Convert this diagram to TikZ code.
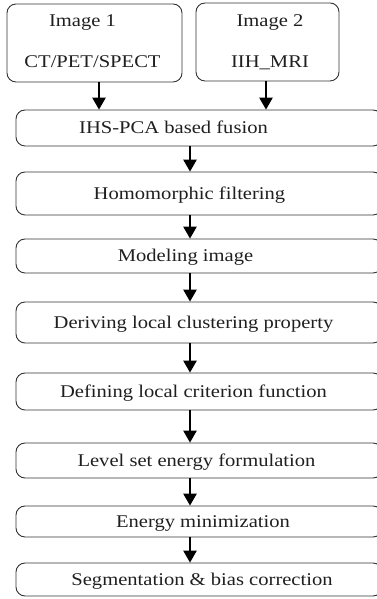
\documentclass[tikz,border=0pt]{standalone}
\usepackage{fontspec}
\setmainfont{Liberation Serif}
\usetikzlibrary{arrows.meta}
\newcommand\sx[1]{\scalebox{1.15}[1]{#1}}
\begin{document}
\begin{tikzpicture}[x=1pt,y=1pt,
  box/.style={draw=black!80, line width=0.9pt, rounded corners=9pt, minimum width=#1, inner sep=0pt},
  box/.default=366pt,
  lbl/.style={anchor=base, inner sep=0pt, text=black!88, font=\fontsize{17.9}{20}\selectfont},
  arr/.style={line width=1.2pt, -{Triangle[length=12pt,width=13.5pt]}}]
\useasboundingbox (0,0) rectangle (377,599);
% top input boxes
\node[box=175pt, minimum height=78pt] (img1) at (94.5,556) {};
\node[box=143pt, minimum height=78pt] (img2) at (267.5,557) {};
\node[lbl] (i1a) at (82.5,572) {\sx{Image 1}};
\node[lbl] (i1b) at (92.5,531) {\sx{CT/PET/SPECT}};
\node[lbl] (i2a) at (270,572) {\sx{Image 2}};
\node[lbl] (i2b) at (270,531) {\sx{IIH\_MRI}};
% main column
\node[box, minimum height=36pt] (b1) at (199,471) {};
\node[box, minimum height=43pt] (b2) at (199,405.5) {};
\node[box, minimum height=34pt] (b3) at (199,343) {};
\node[box, minimum height=41pt] (b4) at (199,276.5) {};
\node[box, minimum height=37pt] (b5) at (199,207.5) {};
\node[box, minimum height=35pt] (b6) at (199,138.5) {};
\node[box, minimum height=31pt] (b7) at (199,77.5) {};
\node[box, minimum height=33pt] (b8) at (199,19.5) {};
\node[lbl] (t1) at (173.5,465.1) {\sx{IHS-PCA based fusion}};
\node[lbl] (t2) at (189.5,399.6) {\sx{Homomorphic filtering}};
\node[lbl] (t3) at (185.5,337.1) {\sx{Modeling image}};
\node[lbl] (t4) at (193.5,270.6) {\sx{Deriving local clustering property}};
\node[lbl] (t5) at (193.5,201.6) {\sx{Defining local criterion function}};
\node[lbl] (t6) at (196.5,132.6) {\sx{Level set energy formulation}};
\node[lbl] (t7) at (203,71.6) {\sx{Energy minimization}};
\node[lbl] (t8) at (202,13.6) {\sx{Segmentation \& bias correction}};
% connectors
\coordinate (a1) at ([xshift=4.5pt]img1.south);
\coordinate (a2) at ([xshift=-1.5pt]img2.south);
\draw[arr] (a1) -- (a1 |- b1.north);
\draw[arr] (a2) -- (a2 |- b1.north);
\coordinate (c) at (190,0);
\draw[arr] (b1.south -| c) -- (b2.north -| c);
\draw[arr] (b2.south -| c) -- (b3.north -| c);
\draw[arr] (b3.south -| c) -- (b4.north -| c);
\draw[arr] (b4.south -| c) -- (b5.north -| c);
\draw[arr] (b5.south -| c) -- (b6.north -| c);
\draw[arr] (b6.south -| c) -- (b7.north -| c);
\draw[arr] (b7.south -| c) -- (b8.north -| c);
\end{tikzpicture}
\end{document}
